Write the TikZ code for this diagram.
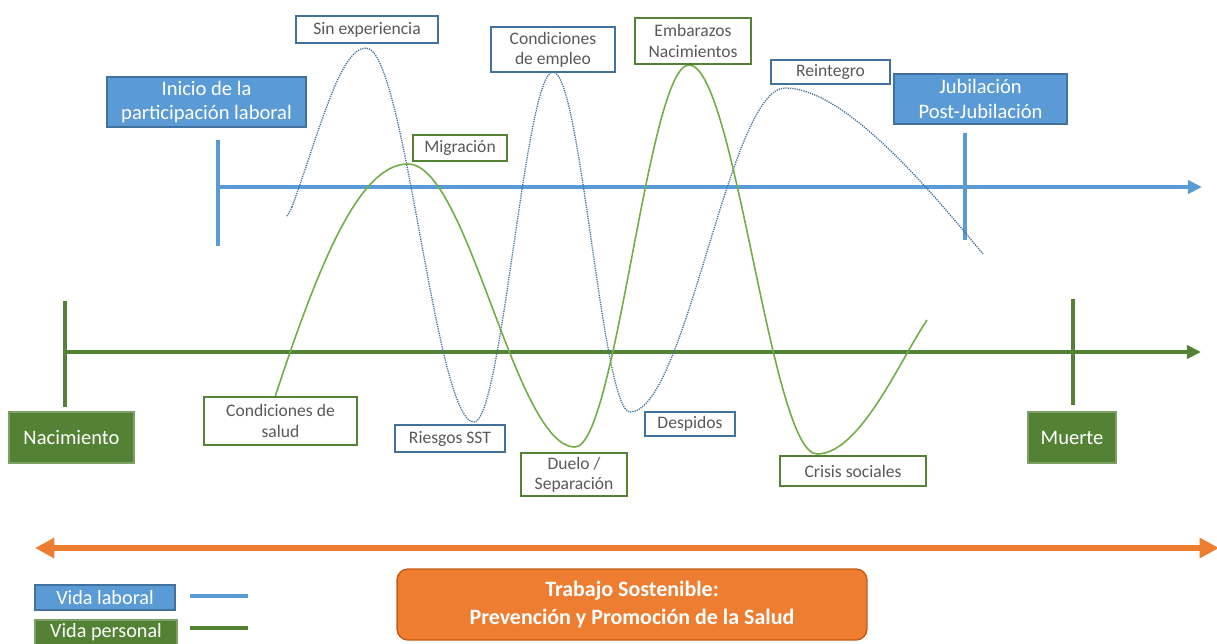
\documentclass[tikz,border=0pt]{standalone}
\usepackage{fontspec}
\setmainfont{Carlito}
\usetikzlibrary{arrows.meta}
\definecolor{bluef}{HTML}{5B9BD5}
\definecolor{blued}{HTML}{41719C}
\definecolor{greenf}{HTML}{548235}
\definecolor{greenl}{HTML}{70AD47}
\definecolor{orangef}{HTML}{ED7D31}
\definecolor{oranged}{HTML}{C55A11}
\definecolor{txtgray}{HTML}{595959}
\begin{document}
\begin{tikzpicture}[x=0.02cm,y=-0.02cm,
 lbl/.style={draw, line width=0.8pt, fill=white, text=txtgray, font=\fontsize{10}{11.5}\selectfont, align=center, inner sep=0pt},
 lblb/.style={lbl, draw=blued},
 lblg/.style={lbl, draw=greenf},
 bigb/.style={draw=blued, fill=bluef, line width=0.8pt, text=white, font=\fontsize{11.7}{14}\selectfont, align=center, inner sep=0pt},
 bigg/.style={draw=greenf!75!white, fill=greenf, line width=0.8pt, text=white, font=\fontsize{11.7}{14}\selectfont, align=center, inner sep=0pt},
 axisb/.style={bluef, line width=2.3pt},
 axisg/.style={greenf, line width=2.3pt},
 curveb/.style={blued, line width=0.75pt, dash pattern=on 0.7pt off 0.6pt},
 curveg/.style={greenl, line width=0.9pt},
 tipb/.style={-{Triangle[length=8pt,width=7.5pt]}},
]
\useasboundingbox (0,0) rectangle (1217,643);

% axes
\coordinate (bs) at (218,187); \coordinate (be) at (1202,187);
\coordinate (gs) at (63,352);  \coordinate (ge) at (1201,352);
\draw[axisb, tipb] (bs) -- (be);
\draw[axisg, tipb] (gs) -- (ge);
\coordinate (bt1a) at (218,140); \coordinate (bt1b) at (218,246);
\coordinate (bt2a) at (965,133); \coordinate (bt2b) at (965,240);
\coordinate (gt1a) at (65,301);  \coordinate (gt1b) at (65,407);
\coordinate (gt2a) at (1073,299); \coordinate (gt2b) at (1073,405);
\draw[axisb] (bt1a) -- (bt1b);
\draw[axisb] (bt2a) -- (bt2b);
\draw[axisg] (gt1a) -- (gt1b);
\draw[axisg] (gt2a) -- (gt2b);

% orange double arrow
\coordinate (oa) at (35,548); \coordinate (ob) at (1219,548);
\draw[orangef, line width=3.4pt, {Triangle[length=11pt,width=11pt]}-{Triangle[length=11pt,width=11pt]}] (oa) -- (ob);

% blue dotted curve (vida laboral)
\draw[curveb] (292,207) .. controls (290,211) and (289,213) .. (287,216);
\draw[curveb] (292,207) .. controls (320,130) and (340,48) .. (366,48)
  .. controls (405,48) and (435,422) .. (474,422)
  .. controls (502,422) and (525,72) .. (553,72)
  .. controls (581,72) and (602,412) .. (630,412)
  .. controls (686,412) and (729,88) .. (785,88)
  .. controls (845,88) and (930,190) .. (983,254);

% green curve (vida personal)
\draw[curveg] (275,397) .. controls (320,260) and (360,164) .. (408,164)
  .. controls (468,164) and (515,447) .. (575,447)
  .. controls (616,447) and (648,65) .. (689,65)
  .. controls (735,65) and (771,454) .. (817,454)
  .. controls (860,454) and (900,360) .. (927,320);

% big boxes
\node[bigb, minimum width=3.98cm, minimum height=1.0cm] (inicio) at (206.5,102) {Inicio de la\\participación laboral};
\node[bigb, minimum width=3.46cm, minimum height=1.0cm] (jub) at (980.5,99) {Jubilación\\Post-Jubilación};
\node[bigg, minimum width=2.5cm, minimum height=1.02cm] (nac) at (71.5,437.5) {Nacimiento};
\node[bigg, minimum width=1.76cm, minimum height=1.02cm] (muerte) at (1072,437.5) {Muerte};

% label boxes
\node[lblb, minimum width=2.84cm, minimum height=0.54cm] (sin) at (367,29.5) {Sin experiencia};
\node[lblb, minimum width=2.48cm, minimum height=0.9cm] (empleo) at (553,49.5) {Condiciones\\de empleo};
\node[lblg, minimum width=2.32cm, minimum height=0.92cm] (emb) at (693,41) {Embarazos\\Nacimientos};
\node[lblb, minimum width=2.38cm, minimum height=0.48cm] (rein) at (830.5,72) {Reintegro};
\node[lblg, minimum width=1.88cm, minimum height=0.52cm] (migr) at (460,148) {Migración};
\node[lblg, minimum width=3.06cm, minimum height=0.96cm] (salud) at (280.5,421) {Condiciones de\\salud};
\node[lblb, minimum width=2.2cm, minimum height=0.54cm] (riesgos) at (450,438.5) {Riesgos SST};
\node[lblg, minimum width=2.12cm, minimum height=0.86cm] (duelo) at (574,474.5) {Duelo /\\Separación};
\node[lblb, minimum width=1.8cm, minimum height=0.48cm] (desp) at (690,424) {Despidos};
\node[lblg, minimum width=2.92cm, minimum height=0.6cm] (crisis) at (853,471) {Crisis sociales};

% bottom box
\node[draw=oranged, fill=orangef, line width=0.8pt, rounded corners=0.22cm, minimum width=9.4cm, minimum height=1.42cm, text=white, font=\bfseries\fontsize{12.5}{15.5}\selectfont, align=center, inner sep=0pt] (trab) at (632,604.5) {Trabajo Sostenible:\\Prevención y Promoción de la Salud};

% legend
\node[bigb, font=\fontsize{11.5}{13}\selectfont, minimum width=2.8cm, minimum height=0.5cm] (vl) at (105,597.5) {Vida laboral};
\node[bigg, font=\fontsize{11.5}{13}\selectfont, minimum width=2.84cm, minimum height=0.5cm] (vp) at (106,632.5) {Vida personal};
\coordinate (l1a) at (190,596); \coordinate (l1b) at (248,596);
\coordinate (l2a) at (190,628); \coordinate (l2b) at (248,628);
\draw[axisb] (l1a) -- (l1b);
\draw[axisg] (l2a) -- (l2b);
\end{tikzpicture}
\end{document}
